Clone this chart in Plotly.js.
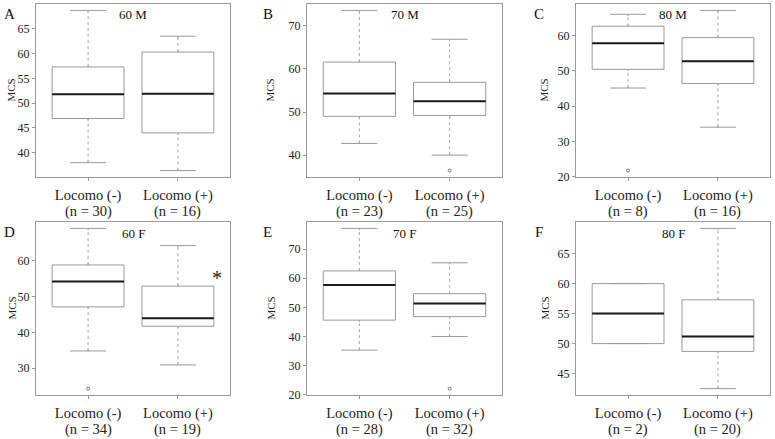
<!DOCTYPE html>
<html><head><meta charset="utf-8">
<script src="https://cdn.plot.ly/plotly-3.0.1.min.js"></script>
<style>html,body{margin:0;padding:0;background:#fff}#chart{width:775px;height:439px}</style>
</head><body><div id="chart"></div>
<script>
// ---- data ----
const panelLetters = ['A','B','C','D','E','F'];
const panelTitles = ['60 M','70 M','80 M','60 F','70 F','80 F'];
const groupNames = ['Locomo (-)','Locomo (+)'];
const nNeg = [30,23,8,34,28,2];
const nPos = [16,25,16,19,32,20];
// Locomo (-)
const lowNeg  = [38.0,42.7,45.1,34.8,35.3,50.0];
const q1Neg   = [46.9,49.0,50.4,47.1,45.6,50.0];
const medNeg  = [51.8,54.3,57.8,54.2,57.7,55.0];
const q3Neg   = [57.3,61.6,62.6,58.8,62.5,60.0];
const highNeg = [68.7,73.6,66.0,69.0,77.1,60.0];
const outNeg  = [[],[],[21.7],[24.3],[],[]];
// Locomo (+)
const lowPos  = [36.4,40.0,34.0,30.9,40.0,42.5];
const q1Pos   = [44.0,49.2,46.4,41.7,46.8,48.7];
const medPos  = [51.9,52.5,52.7,43.9,51.3,51.2];
const q3Pos   = [60.3,56.9,59.4,52.9,54.7,57.3];
const highPos = [63.5,66.9,67.1,64.2,65.3,69.2];
const outPos  = [[],[36.4],[],[],[22.1],[]];
const yTickVals = [[40,45,50,55,60,65],[40,50,60,70],[20,30,40,50,60],[30,40,50,60],[20,30,40,50,60,70],[45,50,55,60,65]];
const sigMark = ['','','','*','',''];

// ---- layout helpers ----
const W = 775, H = 439;
const colPx = [[36,230],[307,502],[576,770]];
const rowPx = [[4,177],[222,395]];
const letterX = [9.5, 267.5, 538.5];
const mcsX = [11, 270, 544];
const FONT = 'Liberation Serif';
const GRAY = '#9a9a9a';
const BOXW = 0.8, CAPW = 0.4;

const traces = [];
const layout = {
  width: W, height: H, margin: {l:0,r:0,t:0,b:0},
  paper_bgcolor: '#fff', plot_bgcolor: '#fff', showlegend: false,
  font: {family: FONT, color: '#222'},
  annotations: []
};

for (let k = 0; k < 6; k++) {
  const r = Math.floor(k/3), c = k % 3;
  const s = k === 0 ? '' : String(k+1);
  const xa = 'x' + s, ya = 'y' + s;
  const groups = [
    {low: lowNeg[k], q1: q1Neg[k], med: medNeg[k], q3: q3Neg[k], high: highNeg[k], out: outNeg[k], n: nNeg[k], name: groupNames[0]},
    {low: lowPos[k], q1: q1Pos[k], med: medPos[k], q3: q3Pos[k], high: highPos[k], out: outPos[k], n: nPos[k], name: groupNames[1]}
  ];
  const allv = [];
  groups.forEach(g => { allv.push(g.low, g.high, ...g.out); });
  const mn = Math.min(...allv), mx = Math.max(...allv);
  const pad = 0.04 * (mx - mn);
  const span = mx - mn + 2*pad;
  const eps = span * 0.01;
  const x0 = colPx[c][0], x1 = colPx[c][1], y0 = rowPx[r][0], y1 = rowPx[r][1];

  groups.forEach((g, i) => {
    traces.push({type:'box', xaxis:xa, yaxis:ya, x:[i], q1:[g.q1], median:[g.med], q3:[g.q3],
      lowerfence:[g.low], upperfence:[g.high], width: BOXW, whiskerwidth: CAPW/BOXW,
      boxpoints:false, line:{color:GRAY, width:1}, fillcolor:'#ffffff', hoverinfo:'skip', name:g.name});
    const wy = [], wx = [], dx = [], dy = [];
    if (g.high > g.q3) { wx.push(i,i,null); wy.push(g.q3+eps, g.high-eps, null); dx.push(i,i,null); dy.push(g.q3, g.high, null); }
    if (g.low < g.q1) { wx.push(i,i,null); wy.push(g.low+eps, g.q1-eps, null); dx.push(i,i,null); dy.push(g.low, g.q1, null); }
    if (wx.length) {
      traces.push({type:'scatter', mode:'lines', xaxis:xa, yaxis:ya, x:wx, y:wy,
        line:{color:'#ffffff', width:3}, hoverinfo:'skip'});
      traces.push({type:'scatter', mode:'lines', xaxis:xa, yaxis:ya, x:dx, y:dy,
        line:{color:'#a8a8a8', width:1, dash:'dot'}, hoverinfo:'skip'});
    }
    traces.push({type:'scatter', mode:'lines', xaxis:xa, yaxis:ya, x:[i-BOXW/2, i+BOXW/2], y:[g.med, g.med],
      line:{color:'#1a1a1a', width:2}, hoverinfo:'skip'});
    if (g.out.length) {
      traces.push({type:'scatter', mode:'markers', xaxis:xa, yaxis:ya, x:g.out.map(() => i), y:g.out,
        marker:{symbol:'circle-open', size:3, color:'#777', line:{width:1}}, hoverinfo:'skip'});
    }
    // sample size line under the category label
    layout.annotations.push({xref:xa, yref:'paper', x:i, y:1 - (y1 + 34)/H,
      text: '(n = ' + g.n + ')', showarrow:false, font:{family:FONT, size:14.5, color:'#222'},
      xanchor:'center', yanchor:'middle'});
  });

  layout['xaxis' + s] = {
    domain: [x0/W, x1/W], anchor: ya,
    range: [-0.58, 1.58], tickvals: [0,1],
    ticktext: groups.map(g => g.name),
    tickfont: {family: FONT, size: 14.5, color: '#222'},
    ticks: 'outside', ticklen: 3, tickcolor: GRAY, ticklabelstandoff: 2,
    showline: true, mirror: true, linecolor: GRAY, linewidth: 1,
    showgrid: false, zeroline: false, fixedrange: true
  };
  layout['yaxis' + s] = {
    domain: [1 - y1/H, 1 - y0/H], anchor: xa,
    range: [mn - pad, mx + pad], tickvals: yTickVals[k],
    tickfont: {family: FONT, size: 12, color: '#222'},
    ticks: 'outside', ticklen: 3, tickcolor: GRAY,
    showline: true, mirror: true, linecolor: GRAY, linewidth: 1,
    showgrid: false, zeroline: false, fixedrange: true
  };

  layout.annotations.push({xref:'paper', yref:'paper', x:letterX[c]/W, y:1 - (y0 + 10)/H,
    text: panelLetters[k], showarrow:false, font:{family:FONT, size:15, color:'#111'}, xanchor:'center', yanchor:'middle'});
  layout.annotations.push({xref:'paper', yref:'paper', x:((x0 + x1)/2)/W, y:1 - (y0 + 11)/H,
    text: panelTitles[k], showarrow:false, font:{family:FONT, size:13, color:'#111'}, xanchor:'center', yanchor:'middle'});
  layout.annotations.push({xref:'paper', yref:'paper', x:mcsX[c]/W, y:1 - ((y0 + y1)/2)/H,
    text: 'MCS', textangle:-90, showarrow:false, font:{family:FONT, size:11, color:'#222'}, xanchor:'center', yanchor:'middle'});
  if (sigMark[k]) {
    layout.annotations.push({xref:xa, yref:ya, x:1.44, y:q3Pos[k] + 0.045*span,
      text: sigMark[k], showarrow:false, font:{family:FONT, size:20, color:'#222'}, xanchor:'center', yanchor:'middle'});
  }
}

Plotly.newPlot('chart', traces, layout, {displayModeBar:false, staticPlot:true});
</script>
</body></html>
